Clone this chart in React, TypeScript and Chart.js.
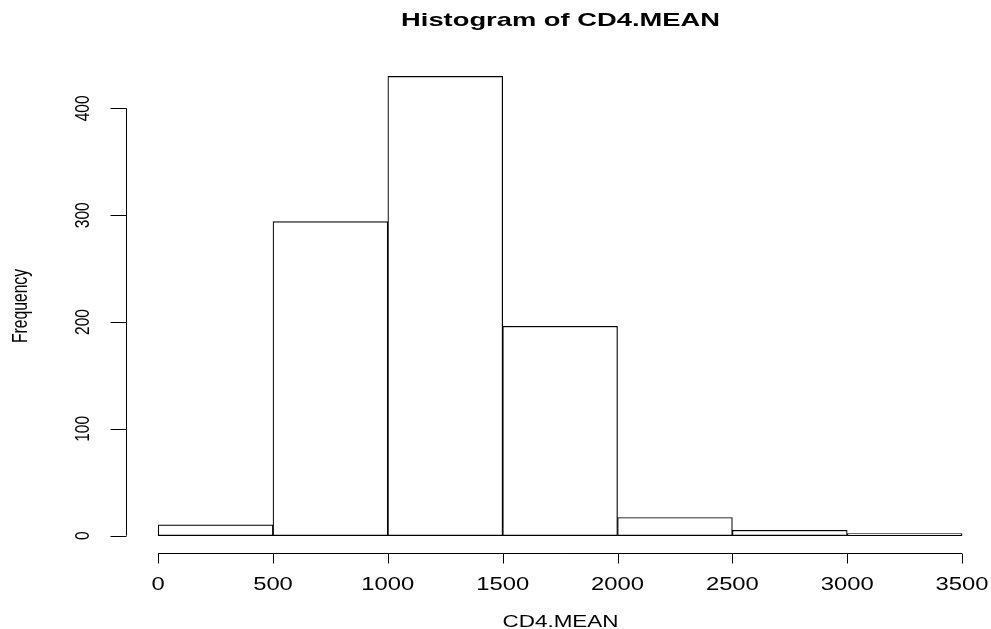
import React, { useEffect, useRef } from "react";
import { Chart, registerables } from "chart.js";

Chart.register(...registerables);

const binStarts = [0, 500, 1000, 1500, 2000, 2500, 3000];
const binWidth = 500;
const counts = [10, 294, 430, 196, 17, 5, 2];
const xTicks = [0, 500, 1000, 1500, 2000, 2500, 3000, 3500];
const yTicks = [0, 100, 200, 300, 400];
const titleText = "Histogram of CD4.MEAN";
const xLabel = "CD4.MEAN";
const yLabel = "Frequency";

const SX = 1.36;
const FONT = '"Liberation Sans", Arial, Helvetica, sans-serif';

function drawText(
  ctx: CanvasRenderingContext2D,
  text: string,
  x: number,
  y: number,
  font: string,
  rotate: boolean,
  sx: number
) {
  ctx.save();
  ctx.translate(x, y);
  ctx.scale(sx, 1);
  if (rotate) ctx.rotate(-Math.PI / 2);
  ctx.font = font;
  ctx.fillStyle = "#000";
  ctx.textAlign = "center";
  ctx.textBaseline = "alphabetic";
  ctx.fillText(text, 0, 0);
  ctx.restore();
}

const axesPlugin = {
  id: "rAxes",
  afterDraw(chart: any) {
    const ctx: CanvasRenderingContext2D = chart.ctx;
    const xs = chart.scales.x;
    const ys = chart.scales.y;
    const area = chart.chartArea;
    ctx.save();
    ctx.strokeStyle = "#000";
    ctx.lineWidth = 1;
    // x axis
    const yAxis = Math.round(area.bottom) - 0.5;
    ctx.beginPath();
    ctx.moveTo(xs.getPixelForValue(xTicks[0]), yAxis);
    ctx.lineTo(xs.getPixelForValue(xTicks[xTicks.length - 1]), yAxis);
    for (const t of xTicks) {
      const px = Math.round(xs.getPixelForValue(t)) + 0.5;
      ctx.moveTo(px, yAxis);
      ctx.lineTo(px, yAxis + 10);
    }
    ctx.stroke();
    // y axis
    const xAxis = Math.round(area.left) + 0.5;
    ctx.beginPath();
    ctx.moveTo(xAxis, ys.getPixelForValue(yTicks[0]));
    ctx.lineTo(xAxis, ys.getPixelForValue(yTicks[yTicks.length - 1]));
    for (const t of yTicks) {
      const py = Math.round(ys.getPixelForValue(t)) + 0.5;
      ctx.moveTo(xAxis, py);
      ctx.lineTo(xAxis - 16, py);
    }
    ctx.stroke();
    ctx.restore();

    for (const t of xTicks) {
      drawText(ctx, String(t), xs.getPixelForValue(t), 589.5, `17.5px ${FONT}`, false, SX);
    }
    for (const t of yTicks) {
      drawText(ctx, String(t), 89, ys.getPixelForValue(t), `15.5px ${FONT}`, true, SX);
    }
    const cx = (area.left + area.right + 4) / 2;
    drawText(ctx, titleText, cx, 26, `bold 18.6px ${FONT}`, false, 1.47);
    drawText(ctx, xLabel, cx, 627, `16.5px ${FONT}`, false, SX);
    drawText(ctx, yLabel, 27, (area.top + area.bottom) / 2, `15.7px ${FONT}`, true, SX);
  },
};

export default function App() {
  const ref = useRef<HTMLCanvasElement | null>(null);
  useEffect(() => {
    if (!ref.current) return;
    const data = binStarts.map((s, i) => ({ x: s + binWidth / 2, y: counts[i] }));
    const chart = new Chart(ref.current, {
      type: "bar",
      data: {
        datasets: [
          {
            data: data as any,
            backgroundColor: "#ffffff",
            borderColor: "#000000",
            borderWidth: 1.2,
            borderSkipped: false,
            barPercentage: 1,
            categoryPercentage: 1,
          },
        ],
      },
      options: {
        responsive: false,
        animation: false,
        layout: { padding: { left: 126, right: 0, top: 58, bottom: 75 } },
        plugins: { legend: { display: false }, tooltip: { enabled: false }, title: { display: false } },
        scales: {
          x: { type: "linear", min: -140, max: 3626, display: false, offset: false },
          y: { type: "linear", min: -17.2, max: 447.2, display: false },
        },
      },
      plugins: [axesPlugin],
    });
    return () => chart.destroy();
  }, []);
  return (
    <div style={{ position: "absolute", left: 0, top: 0, width: 991, height: 629, background: "#fff" }}>
      <canvas ref={ref} width={991} height={629} />
    </div>
  );
}
